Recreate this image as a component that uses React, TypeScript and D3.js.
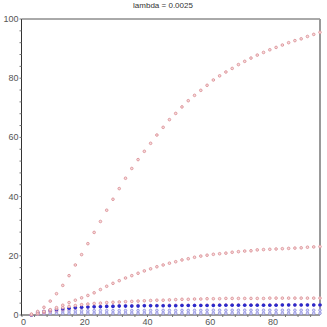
import React from "react";
import * as d3 from "d3";

const title = "lambda = 0.0025";
const xValues = [3,5,7,9,11,13,15,17,19,21,23,25,27,29,31,33,35,37,39,41,43,45,47,49,51,53,55,57,59,61,63,65,67,69,71,73,75,77,79,81,83,85,87,89,91,93,95];
const redTop = [0.3,1.2,2.6,4.7,7.2,10.0,13.3,16.9,20.4,24.1,27.9,31.6,35.4,39.1,42.7,46.2,49.5,52.5,55.3,58.0,60.8,63.4,66.0,68.1,70.3,72.4,74.2,75.9,77.6,79.4,80.8,82.1,83.3,84.6,85.7,86.8,87.8,88.7,89.6,90.4,91.2,92.0,92.7,93.3,94.1,94.8,95.5];
const redMid = [0.1,0.6,1.2,1.8,2.5,3.3,4.2,5.0,5.8,6.6,7.5,8.6,9.7,10.7,11.6,12.5,13.3,14.1,14.9,15.6,16.3,16.9,17.5,18.0,18.6,19.0,19.5,19.9,20.2,20.5,20.7,20.9,21.2,21.4,21.6,21.7,22.0,22.1,22.2,22.3,22.4,22.5,22.6,22.7,22.9,23.0,23.1];
const redLow = [0.1,0.5,1.0,1.6,2.1,2.5,2.9,3.2,3.5,3.7,3.9,4.0,4.2,4.3,4.4,4.5,4.6,4.7,4.8,4.9,5.0,5.0,5.1,5.2,5.3,5.3,5.4,5.4,5.5,5.5,5.5,5.6,5.6,5.6,5.6,5.6,5.6,5.6,5.7,5.7,5.7,5.7,5.7,5.7,5.7,5.7,5.7];
const redLowest = [0.0,0.3,0.7,1.1,1.5,1.8,2.1,2.3,2.5,2.7,2.8,2.9,3.0,3.0,3.1,3.1,3.1,3.2,3.2,3.2,3.2,3.2,3.3,3.3,3.3,3.3,3.3,3.3,3.3,3.4,3.4,3.4,3.4,3.4,3.4,3.4,3.4,3.4,3.4,3.4,3.4,3.4,3.4,3.4,3.4,3.4,3.4];
const blueFilled = [0.0,0.8,1.2,1.6,1.9,2.1,2.3,2.5,2.6,2.7,2.8,2.8,2.9,2.9,3.0,3.0,3.0,3.0,3.1,3.1,3.1,3.1,3.1,3.1,3.2,3.2,3.2,3.2,3.2,3.2,3.3,3.3,3.3,3.3,3.3,3.3,3.3,3.3,3.3,3.3,3.4,3.4,3.4,3.4,3.4,3.4,3.4];
const blueMid = [0.0,0.9,1.1,1.2,1.3,1.4,1.4,1.45,1.45,1.45,1.5,1.5,1.5,1.5,1.5,1.5,1.5,1.5,1.5,1.55,1.55,1.55,1.55,1.55,1.55,1.55,1.55,1.55,1.6,1.6,1.6,1.6,1.6,1.6,1.6,1.6,1.6,1.6,1.6,1.6,1.6,1.6,1.6,1.6,1.6,1.6,1.6];
const blueLow = [0.0,0.4,0.5,0.55,0.6,0.6,0.6,0.6,0.6,0.6,0.6,0.6,0.6,0.6,0.6,0.6,0.6,0.6,0.6,0.6,0.6,0.6,0.6,0.6,0.6,0.6,0.6,0.6,0.6,0.6,0.6,0.6,0.6,0.6,0.6,0.6,0.6,0.6,0.6,0.6,0.6,0.6,0.6,0.6,0.6,0.6,0.6];
const xTicks = [0, 20, 40, 60, 80];
const yTicks = [0, 20, 40, 60, 80, 100];

const W = 327, H = 327;
const left = 21.5, right = 320, top = 19, bottom = 315;
const font = "Liberation Sans, Arial, sans-serif";

export default function App() {
  const x = d3.scaleLinear().domain([0, 95]).range([left + 0.5, right]);
  const y = d3.scaleLinear().domain([0, 100]).range([bottom, top]);
  const minorX = d3.range(0, 96, 4);
  const minorY = d3.range(0, 101, 4);

  const series = [
    { data: blueLow, type: "open", color: "#9a9ae6", fill: "#d8d8f6" },
    { data: blueMid, type: "open", color: "#9a9ae6", fill: "#d8d8f6" },
    { data: redLowest, type: "open", color: "#c890c0", fill: "#eed0e0" },
    { data: blueFilled, type: "filled", color: "#2a2acc", fill: "#2a2acc" },
    { data: redLow, type: "open", color: "#e09aa0", fill: "#f6dcdc" },
    { data: redMid, type: "open", color: "#e09aa0", fill: "#f6dcdc" },
    { data: redTop, type: "open", color: "#e09aa0", fill: "#f6dcdc" },
  ];

  return (
    <svg width={W} height={H} style={{ position: "absolute", left: 0, top: 0, background: "#fff" }}>
      <text x={163} y={8} textAnchor="middle" fontFamily={font} fontSize={8} fill="#333">{title}</text>
      <line x1={left} x2={right} y1={top} y2={top} stroke="#555" strokeWidth={1} />
      <line x1={right} x2={right} y1={top} y2={bottom} stroke="#999" strokeWidth={2} />
      <line x1={left} x2={left} y1={top} y2={bottom + 1} stroke="#333" strokeWidth={1} />
      <line x1={left} x2={right} y1={bottom} y2={bottom} stroke="#333" strokeWidth={1} />
      {minorY.map((v) => (
        <line key={"my" + v} x1={left - 2} x2={left} y1={y(v)} y2={y(v)} stroke="#777" strokeWidth={1} />
      ))}
      {minorX.map((v) => (
        <line key={"mx" + v} x1={x(v)} x2={x(v)} y1={bottom} y2={bottom + 2} stroke="#777" strokeWidth={1} />
      ))}
      {yTicks.map((v) => (
        <text key={"yl" + v} x={left - 3} y={y(v) + 3} textAnchor="end" fontFamily={font} fontSize={9} fill="#555">{v}</text>
      ))}
      {xTicks.map((v) => (
        <text key={"xl" + v} x={x(v) + (v === 0 ? 1.5 : 0)} y={bottom + 10} textAnchor="middle" fontFamily={font} fontSize={9} fill="#555">{v}</text>
      ))}
      {series.map((s, si) => (
        <g key={"s" + si}>
          {s.data.map((v, i) =>
            s.type === "filled" ? (
              <circle key={i} cx={x(xValues[i])} cy={y(v)} r={1.8} fill={s.color} />
            ) : (
              <circle key={i} cx={x(xValues[i])} cy={y(v)} r={1.3} fill={s.fill} stroke={s.color} strokeWidth={1} />
            )
          )}
        </g>
      ))}
    </svg>
  );
}
